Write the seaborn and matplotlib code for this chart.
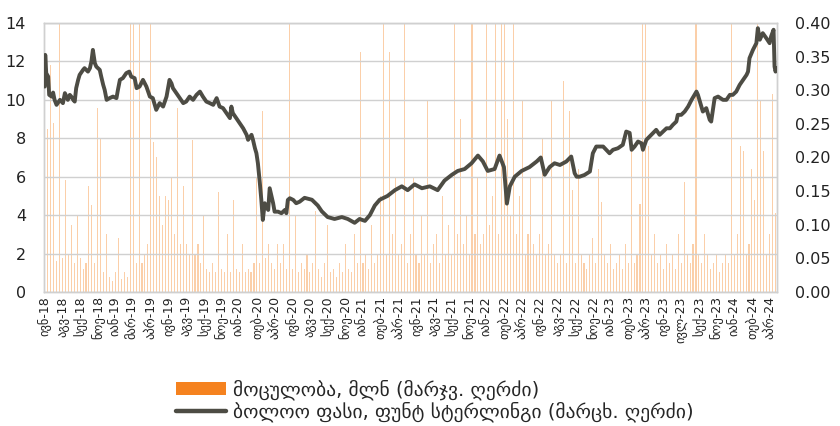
import numpy as np
import pandas as pd
import seaborn as sns
import matplotlib.pyplot as plt
from matplotlib.patches import Patch
from matplotlib.lines import Line2D

# x axis: trading-day index, one label every 36 trading days
tick_labels = ['ივნ-18', 'აგვ-18', 'სექ-18', 'ნოე-18', 'იან-19', 'მარ-19', 'აპრ-19',
               'ივნ-19', 'აგვ-19', 'სექ-19', 'ნოე-19', 'იან-20', 'თებ-20', 'აპრ-20',
               'ივნ-20', 'აგვ-20', 'სექ-20', 'ნოე-20', 'იან-21', 'თებ-21', 'აპრ-21',
               'ივნ-21', 'აგვ-21', 'სექ-21', 'ნოე-21', 'იან-22', 'თებ-22', 'აპრ-22',
               'ივნ-22', 'აგვ-22', 'სექ-22', 'ნოე-22', 'იან-23', 'თებ-23', 'აპრ-23',
               'ივნ-23', 'ივლ-23', 'სექ-23', 'ნოე-23', 'იან-24', 'თებ-24', 'აპრ-24']

# closing price, GBP (left axis)
price_day = [0, 1, 3, 7, 9, 14, 17, 20, 24, 31,
             37, 41, 44, 47, 51, 54, 58, 61, 64, 68,
             71, 78, 81, 88, 92, 95, 98, 102, 105, 112,
             115, 119, 122, 126, 132, 139, 146, 149, 153, 159,
             166, 172, 176, 183, 187, 193, 200, 207, 214, 220,
             227, 234, 241, 248, 254, 258, 261, 268, 275, 282,
             288, 295, 302, 309, 316, 322, 329, 336, 343, 350,
             356, 363, 370, 377, 380, 383, 390, 397, 404, 411,
             414, 421, 424, 428, 431, 434, 438, 441, 444, 448,
             451, 455, 458, 462, 465, 468, 475, 482, 489, 492,
             495, 499, 506, 512, 519,
             529, 544, 556, 564, 576, 590, 605, 617, 631, 641,
             652, 662, 672, 682, 698, 713, 727, 739, 753, 768,
             784, 800, 814, 829, 841, 855, 869, 882, 892, 902,
             916, 926, 935, 941, 947, 957, 971, 987, 1002, 1010,
             1018, 1028, 1038,
             1049, 1062, 1072, 1079, 1083, 1089, 1099, 1110, 1116, 1123,
             1137, 1150, 1157, 1167, 1177, 1184, 1191, 1195, 1201, 1208,
             1215, 1218, 1225, 1235, 1245, 1252, 1259, 1266, 1273, 1279,
             1286, 1289, 1296, 1303, 1310, 1317, 1327, 1330, 1337, 1340,
             1347, 1354, 1357, 1364, 1371, 1381, 1388, 1395, 1401, 1408,
             1415, 1422, 1429, 1432, 1435, 1442, 1449, 1452, 1456, 1462,
             1469, 1476, 1479, 1484, 1486, 1488, 1490]
price_gbp = [10.69, 12.34, 11.39, 11.21, 10.26, 10.17, 10.38, 10.0, 9.74, 10.0,
             9.83, 10.35, 10.17, 10.0, 10.26, 10.17, 10.0, 9.91, 10.61, 11.04,
             11.30, 11.56, 11.65, 11.47, 11.65, 12.0, 12.6, 11.91, 11.73, 11.56,
             11.21, 10.78, 10.52, 10.0, 10.09, 10.17, 10.09, 10.52, 11.04, 11.13,
             11.39, 11.47, 11.21, 11.13, 10.61, 10.69, 11.04, 10.69, 10.17, 10.09,
             9.48, 9.83, 9.65, 10.17, 11.04, 10.86, 10.61, 10.35, 10.09, 9.83,
             9.91, 10.17, 10.0, 10.26, 10.43, 10.17, 9.91, 9.83, 9.74, 10.09,
             9.65, 9.57, 9.31, 9.05, 9.65, 9.31, 9.05, 8.78, 8.52, 8.18,
             7.92, 8.18, 7.92, 7.48, 7.22, 6.70, 5.66, 4.79, 3.75, 4.62,
             4.44, 4.27, 5.40, 4.96, 4.62, 4.18, 4.18, 4.10, 4.27, 4.10,
             4.79, 4.88, 4.79, 4.62, 4.70,
             4.9, 4.8, 4.5, 4.2, 3.9, 3.8, 3.9, 3.8, 3.6, 3.8,
             3.7, 4.0, 4.5, 4.8, 5.0, 5.3, 5.5, 5.3, 5.6, 5.4,
             5.5, 5.3, 5.8, 6.1, 6.3, 6.4, 6.7, 7.1, 6.8, 6.3,
             6.4, 7.1, 6.5, 4.6, 5.5, 6.0, 6.3, 6.5, 6.8, 7.0,
             6.1, 6.5, 6.7,
             6.61, 6.79, 7.05, 6.18, 6.0, 6.0, 6.09, 6.27, 7.22, 7.57,
             7.57, 7.22, 7.40, 7.48, 7.66, 8.35, 8.28, 7.40, 7.57, 7.83,
             7.74, 7.40, 7.92, 8.18, 8.44, 8.18, 8.35, 8.52, 8.52, 8.70,
             8.87, 9.22, 9.22, 9.39, 9.65, 10.0, 10.43, 10.26, 9.65, 9.39,
             9.57, 8.96, 8.87, 10.09, 10.17, 10.0, 10.0, 10.26, 10.26, 10.43,
             10.78, 11.04, 11.30, 11.47, 12.17, 12.6, 12.95, 13.73, 13.13, 13.47,
             13.22, 12.95, 13.3, 13.65, 11.73, 11.47, 11.65]

# traded volume, mln shares (right axis), one reading every 6 trading days
volume_mln = [0.41, 0.243, 0.337, 0.251, 0.046, 0.41, 0.051, 0.166, 0.057, 0.10,
              0.043, 0.114, 0.051, 0.034, 0.043, 0.157, 0.129, 0.043, 0.274, 0.229,
              0.029, 0.086, 0.023, 0.017, 0.029, 0.08, 0.02, 0.029, 0.023, 0.41,
              0.41, 0.043, 0.41, 0.043, 0.057, 0.071, 0.41, 0.223, 0.20, 0.143,
              0.10, 0.143, 0.137, 0.171, 0.086, 0.274, 0.071, 0.157, 0.071, 0.057,
              0.226, 0.057, 0.071, 0.043, 0.114, 0.034, 0.029, 0.043, 0.029, 0.149,
              0.034, 0.029, 0.086, 0.029, 0.137, 0.034, 0.029, 0.071, 0.029, 0.034,
              0.029, 0.043, 0.171, 0.043, 0.269, 0.051, 0.071, 0.043, 0.034, 0.071,
              0.043, 0.071, 0.034, 0.41, 0.034, 0.114, 0.029, 0.043, 0.034, 0.057,
              0.029, 0.043, 0.12, 0.034, 0.023, 0.043, 0.10, 0.029, 0.034, 0.023,
              0.043, 0.029, 0.071, 0.034, 0.029, 0.086, 0.043, 0.357, 0.043, 0.057,
              0.034, 0.10, 0.043, 0.057, 0.143, 0.41, 0.057, 0.357, 0.086, 0.171,
              0.057, 0.071, 0.41, 0.043, 0.086, 0.171, 0.057, 0.043, 0.114, 0.057,
              0.286, 0.043, 0.071, 0.086, 0.043, 0.143, 0.057, 0.10, 0.057, 0.41,
              0.086, 0.257, 0.071, 0.114, 0.057, 0.41, 0.086, 0.171, 0.071, 0.086,
              0.41, 0.10, 0.143, 0.41, 0.086, 0.41, 0.41, 0.257, 0.114, 0.41,
              0.086, 0.143, 0.286, 0.057, 0.086, 0.171, 0.071, 0.057, 0.086, 0.229,
              0.057, 0.071, 0.286, 0.057, 0.043, 0.057, 0.314, 0.043, 0.269, 0.151,
              0.043, 0.183, 0.057, 0.043, 0.034, 0.057, 0.08, 0.043, 0.183, 0.134,
              0.057, 0.043, 0.071, 0.034, 0.043, 0.057, 0.034, 0.071, 0.043, 0.223,
              0.043, 0.057, 0.131, 0.41, 0.41, 0.217, 0.057, 0.086, 0.043, 0.057,
              0.034, 0.071, 0.043, 0.057, 0.034, 0.086, 0.043, 0.163, 0.057, 0.043,
              0.071, 0.41, 0.057, 0.043, 0.086, 0.057, 0.034, 0.043, 0.057, 0.029,
              0.043, 0.057, 0.043, 0.41, 0.057, 0.086, 0.217, 0.209, 0.057, 0.071,
              0.183, 0.137, 0.41, 0.286, 0.209, 0.057, 0.086, 0.294, 0.117]

vol_label = 'მოცულობა, მლნ (მარჯვ. ღერძი)'
price_label = 'ბოლოო ფასი, ფუნტ სტერლინგი (მარცხ. ღერძი)'

sns.set_theme(style='whitegrid')
plt.rcParams['font.family'] = ['DejaVu Sans']

orange = '#f5821f'
dark = '#4d4c44'
grid_c = '#d0d0d0'

price_df = pd.DataFrame({'day': price_day, 'price': price_gbp})
vol_df = pd.DataFrame({'day': np.arange(len(volume_mln)) * 6, 'vol': volume_mln})

fig, ax = plt.subplots(figsize=(8.4, 4.26), dpi=100)
fig.subplots_adjust(left=0.0524, right=0.925, top=0.946, bottom=0.3146)
ax2 = ax.twinx()

ax2.bar(vol_df['day'], vol_df['vol'], width=2.2, color=orange, alpha=0.38, linewidth=0)
ax2.grid(False)
sns.lineplot(data=price_df, x='day', y='price', ax=ax, color=dark, linewidth=2.8, zorder=3)

# price line above the volume bars
ax.set_zorder(ax2.get_zorder() + 1)
ax.patch.set_visible(False)

ax.set_xlim(-1.5, 1491)
ax.set_ylim(0, 14)
ax2.set_ylim(0, 0.40)
ax.set_yticks(np.arange(0, 15, 2))
ax2.set_yticks(np.arange(0, 0.41, 0.05))
ax2.set_yticklabels([f'{v:.2f}' for v in np.arange(0, 0.41, 0.05)])
ax.set_xticks(np.arange(len(tick_labels)) * 36)
ax.set_xticklabels(tick_labels, rotation=90)

ax.yaxis.grid(True, color=grid_c, linewidth=1.0)
ax.xaxis.grid(False)
ax.set_xlabel('')
ax.set_ylabel('')
for a in (ax, ax2):
    for s in a.spines.values():
        s.set_visible(True)
        s.set_color(grid_c)
        s.set_linewidth(1.0)
ax.tick_params(axis='y', length=0, pad=13, labelsize=11.5, labelcolor='#222222')
ax2.tick_params(axis='y', length=0, pad=13, labelsize=11.5, labelcolor='#222222')
ax.tick_params(axis='x', length=0, pad=3, labelsize=9, labelcolor='#222222')

handles = [Patch(facecolor=orange, edgecolor='none'),
           Line2D([0], [0], color=dark, linewidth=3.2)]
fig.legend(handles, [vol_label, price_label], loc='lower left',
           bbox_to_anchor=(0.2, -0.01), frameon=False, fontsize=14,
           handlelength=2.6, handletextpad=0.35, labelspacing=0.12,
           borderaxespad=0.0)

plt.savefig('out.png', dpi=100)
